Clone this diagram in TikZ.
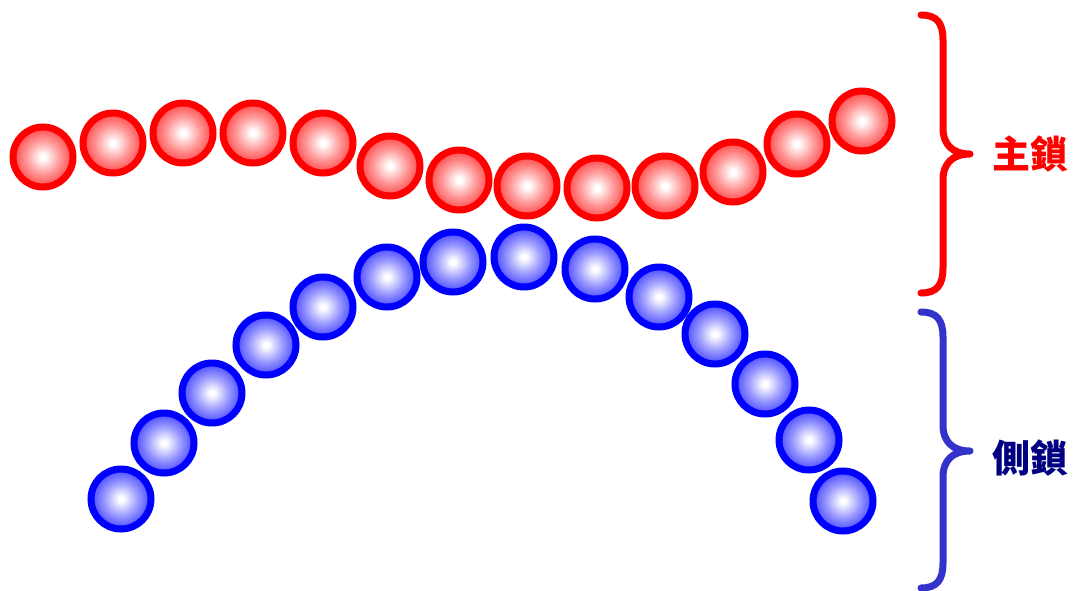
\documentclass[tikz,border=0pt]{standalone}
\usepackage{fontspec}
\newfontfamily\cjk{Noto Sans CJK TC}
\pgfdeclareradialshading{redballshade}{\pgfpoint{0bp}{0bp}}{color(0bp)=(white); color(2bp)=(white); color(14bp)=(red!40); color(25bp)=(red!72); color(50bp)=(red!72)}
\pgfdeclareradialshading{blueballshade}{\pgfpoint{0bp}{0bp}}{color(0bp)=(white); color(2bp)=(white); color(14bp)=(blue!40); color(25bp)=(blue!72); color(50bp)=(blue!72)}
\definecolor{bracered}{RGB}{255,0,0}
\definecolor{braceblue}{RGB}{51,51,204}
\definecolor{navytext}{RGB}{0,0,128}
\tikzset{
  redball/.style={circle, draw=red, line width=7pt, minimum size=60pt, inner sep=0pt, shading=redballshade},
  blueball/.style={circle, draw=blue, line width=7pt, minimum size=60pt, inner sep=0pt, shading=blueballshade},
  bracestyle/.style={line width=7pt, line cap=round, line join=round},
  labeltext/.style={font=\cjk\bfseries\fontsize{38}{44}\selectfont, inner sep=0pt}
}
\begin{document}
\begin{tikzpicture}[x=1pt,y=-1pt]
\useasboundingbox (0,0) rectangle (1077,590);
% main chain (red)
\foreach \i/\x/\y in {1/43/157, 2/113/143, 3/183/133, 4/253/133, 5/323/143, 6/390/166, 7/459/180, 8/527/186, 9/597/188, 10/665/186, 11/733/172, 12/797/144, 13/862/121}
  \node[redball] (r\i) at (\x,\y) {};
% side chain (blue)
\foreach \i/\x/\y in {1/121/499, 2/164/443, 3/212/393, 4/266/345, 5/323/307, 6/387/277, 7/453/262, 8/524/257, 9/595/269, 10/659/297, 11/715/334, 12/765/384, 13/809/440, 14/843/501}
  \node[blueball] (b\i) at (\x,\y) {};
% braces
\coordinate (rt) at (921,15);
\coordinate (rtip) at (970,154);
\coordinate (rb) at (921,293);
\draw[bracestyle, draw=bracered] (rt) .. controls (937,15) and (943,23) .. (943,40) -- (943,128)
  .. controls (943,145) and (953,154) .. (rtip) .. controls (953,154) and (943,163) .. (943,180)
  -- (943,268) .. controls (943,285) and (937,293) .. (rb);
\coordinate (bt) at (921,312);
\coordinate (btip) at (970,451);
\coordinate (bb) at (921,588);
\draw[bracestyle, draw=braceblue] (bt) .. controls (937,312) and (943,320) .. (943,337) -- (943,425)
  .. controls (943,442) and (953,451) .. (btip) .. controls (953,451) and (943,460) .. (943,477)
  -- (943,563) .. controls (943,580) and (937,588) .. (bb);
\node[labeltext, text=bracered] (main) at (1030,154) {主鎖};
\node[labeltext, text=navytext] (side) at (1030,458) {側鎖};
\end{tikzpicture}
\end{document}
